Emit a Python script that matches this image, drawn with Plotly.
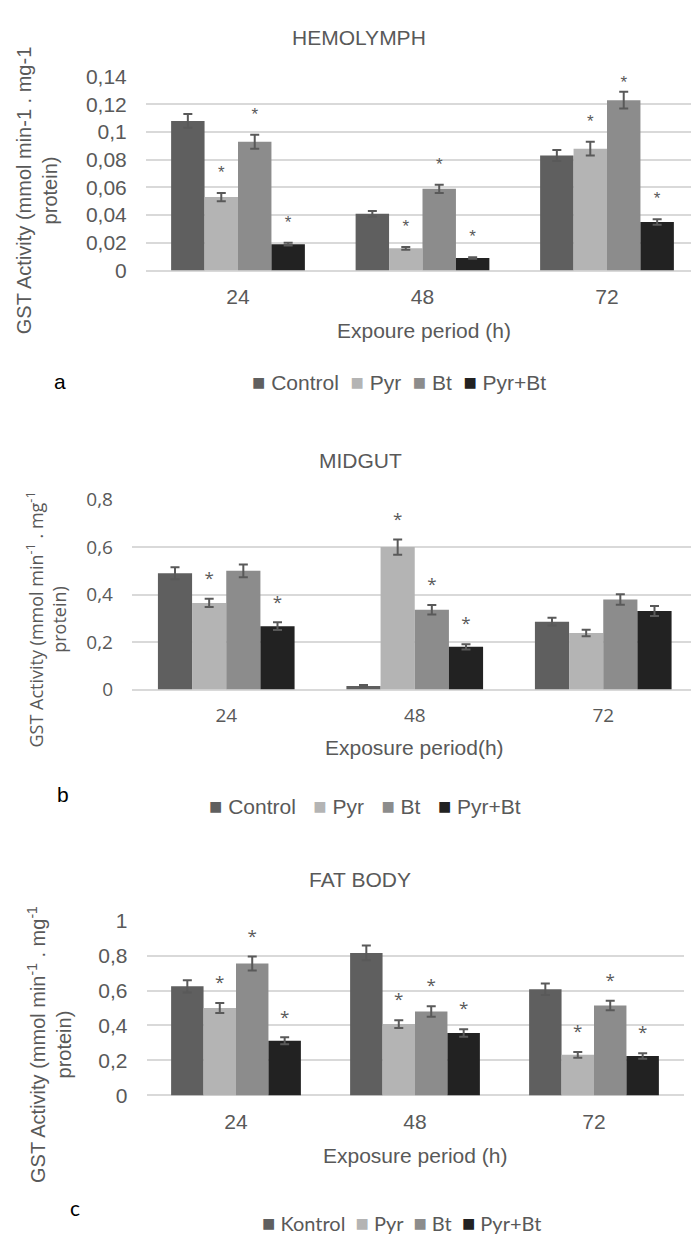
import plotly.graph_objects as go

W, H = 691, 1243

# ---------------- data ----------------
periods = ["24", "48", "72"]
series_ab = ["Control", "Pyr", "Bt", "Pyr+Bt"]
series_c = ["Kontrol", "Pyr", "Bt", "Pyr+Bt"]
colors = ["#5f5f5f", "#b4b4b4", "#8c8c8c", "#222222"]

# HEMOLYMPH
hemo_control = [0.108, 0.041, 0.083]
hemo_pyr = [0.053, 0.016, 0.088]
hemo_bt = [0.093, 0.059, 0.123]
hemo_pyrbt = [0.019, 0.009, 0.035]
hemo_control_err = [0.005, 0.002, 0.004]
hemo_pyr_err = [0.003, 0.001, 0.005]
hemo_bt_err = [0.005, 0.003, 0.006]
hemo_pyrbt_err = [0.001, 0.0006, 0.002]
hemo_sig = [[0, 0, 0], [1, 1, 1], [1, 1, 1], [1, 1, 1]]
hemo_tickvals = [0, 0.02, 0.04, 0.06, 0.08, 0.10, 0.12, 0.14]
hemo_ticktext = ["0", "0,02", "0,04", "0,06", "0,08", "0,1", "0,12", "0,14"]

# MIDGUT
mid_control = [0.490, 0.015, 0.286]
mid_pyr = [0.365, 0.600, 0.238]
mid_bt = [0.500, 0.336, 0.379]
mid_pyrbt = [0.267, 0.180, 0.331]
mid_control_err = [0.025, 0.004, 0.016]
mid_pyr_err = [0.017, 0.032, 0.014]
mid_bt_err = [0.027, 0.020, 0.022]
mid_pyrbt_err = [0.016, 0.011, 0.021]
mid_sig = [[0, 0, 0], [1, 1, 0], [0, 1, 0], [1, 1, 0]]
mid_tickvals = [0, 0.2, 0.4, 0.6, 0.8]
mid_ticktext = ["0", "0,2", "0,4", "0,6", "0,8"]

# FAT BODY
fat_control = [0.624, 0.815, 0.607]
fat_pyr = [0.500, 0.408, 0.232]
fat_bt = [0.755, 0.480, 0.514]
fat_pyrbt = [0.312, 0.357, 0.225]
fat_control_err = [0.035, 0.042, 0.033]
fat_pyr_err = [0.028, 0.022, 0.016]
fat_bt_err = [0.040, 0.030, 0.027]
fat_pyrbt_err = [0.020, 0.022, 0.016]
fat_sig = [[0, 0, 0], [1, 1, 1], [1, 1, 1], [1, 1, 1]]
fat_tickvals = [0, 0.2, 0.4, 0.6, 0.8, 1.0]
fat_ticktext = ["0", "0,2", "0,4", "0,6", "0,8", "1"]

# ---------------- styling / layout helpers ----------------
ARIAL = "Liberation Sans, Arial, sans-serif"
OPEN = "Open Sans, sans-serif"
LATO = "Lato, sans-serif"
GRAY = "#595959"
GRID = "#d9d9d9"
BARGAP = 0.275


def px_x(x):
    return x / W


def px_y(y):
    return 1 - y / H


panels = [
    dict(
        vals=[hemo_control, hemo_pyr, hemo_bt, hemo_pyrbt],
        errs=[hemo_control_err, hemo_pyr_err, hemo_bt_err, hemo_pyrbt_err],
        sig=hemo_sig, tickvals=hemo_tickvals, ticktext=hemo_ticktext,
        x0=145.75, band=184.5, xend=691, ytop=65, ybot=263,
        tickfont=ARIAL, tickfs=21, starfont=ARIAL,
    ),
    dict(
        vals=[mid_control, mid_pyr, mid_bt, mid_pyrbt],
        errs=[mid_control_err, mid_pyr_err, mid_bt_err, mid_pyrbt_err],
        sig=mid_sig, tickvals=mid_tickvals, ticktext=mid_ticktext,
        x0=132, band=188.5, xend=691, ytop=497, ybot=691,
        tickfont=OPEN, tickfs=19, starfont=OPEN,
    ),
    dict(
        vals=[fat_control, fat_pyr, fat_bt, fat_pyrbt],
        errs=[fat_control_err, fat_pyr_err, fat_bt_err, fat_pyrbt_err],
        sig=fat_sig, tickvals=fat_tickvals, ticktext=fat_ticktext,
        x0=146.5, band=179, xend=683.5, ytop=927, ybot=1105.5,
        tickfont=ARIAL, tickfs=21, starfont=OPEN,
    ),
]

fig = go.Figure()
layout_axes = {}
xpos = list(range(len(periods)))
group_w = 1 - BARGAP
bar_w = group_w / 4

for k, p in enumerate(panels, start=1):
    xa = "x" if k == 1 else f"x{k}"
    ya = "y" if k == 1 else f"y{k}"
    ymax = p["tickvals"][-1]
    plot_h = p["ybot"] - p["ytop"]
    per_px = ymax / plot_h
    for i in range(4):
        fig.add_trace(go.Bar(
            x=xpos, y=p["vals"][i], xaxis=xa, yaxis=ya,
            marker=dict(color=colors[i], line=dict(width=0)),
            error_y=dict(type="data", array=p["errs"][i], color=GRAY,
                         thickness=2, width=4.5),
            offsetgroup=str(i), showlegend=False,
        ))
    # significance asterisks above error bars
    for i in range(4):
        sx, sy = [], []
        off = -group_w / 2 + bar_w * (i + 0.5)
        for j in range(3):
            if p["sig"][i][j]:
                top = p["vals"][i][j] + p["errs"][i][j] + 19.5 * per_px
                top = min(top, ymax - 7 * per_px)
                sx.append(xpos[j] + off)
                sy.append(top)
        if sx:
            fig.add_trace(go.Scatter(
                x=sx, y=sy, mode="text", text=["*"] * len(sx),
                textposition="middle center",
                textfont=dict(family=p["starfont"], size=17, color=GRAY),
                xaxis=xa, yaxis=ya, showlegend=False, cliponaxis=False,
                hoverinfo="skip",
            ))
    xkey = "xaxis" if k == 1 else f"xaxis{k}"
    ykey = "yaxis" if k == 1 else f"yaxis{k}"
    xrange_end = -0.5 + (p["xend"] - p["x0"]) / p["band"]
    layout_axes[xkey] = dict(
        domain=[px_x(p["x0"]), px_x(p["xend"])], anchor=ya,
        range=[-0.5, xrange_end], tickvals=xpos, ticktext=periods,
        showgrid=False, zeroline=False, showline=False, ticks="",
        ticklabelstandoff=12,
        tickfont=dict(family=p["tickfont"], size=p["tickfs"], color=GRAY),
        fixedrange=True,
    )
    layout_axes[ykey] = dict(
        domain=[px_y(p["ybot"]), px_y(p["ytop"])], anchor=xa,
        range=[0, ymax], tickvals=p["tickvals"], ticktext=p["ticktext"],
        showgrid=True, gridcolor=GRID, gridwidth=1.5,
        zeroline=True, zerolinecolor=GRID, zerolinewidth=1.5,
        showline=False, ticks="", ticklabelstandoff=18,
        tickfont=dict(family=p["tickfont"], size=p["tickfs"], color=GRAY),
        fixedrange=True,
    )


def legend_text(names, sq_size, gap):
    parts = []
    for n, c in zip(names, colors):
        parts.append(f'<span style="color:{c};font-size:{sq_size}px">\u25a0</span>\u00a0{n}')
    return gap.join(parts)


annotations = []


def ann(text, x, y, family, size, color=GRAY, angle=0):
    annotations.append(dict(
        text=text, x=px_x(x), y=px_y(y), xref="paper", yref="paper",
        xanchor="center", yanchor="middle", showarrow=False, textangle=angle,
        font=dict(family=family, size=size, color=color), align="center",
    ))


# panel titles
ann("HEMOLYMPH", 359, 25, ARIAL, 21)
ann("MIDGUT", 360, 457, ARIAL, 21)
ann("FAT BODY", 360, 885, ARIAL, 21)

# axis titles
ann("Expoure period (h)", 424, 324, ARIAL, 21)
ann("Exposure period(h)", 414, 750, ARIAL, 21)
ann("Exposure period (h)", 415, 1167, ARIAL, 21)

ann("GST Activity (mmol min-1 . mg-1<br>protein)", 37, 182, ARIAL, 20, angle=-90)
ann("GST Activity (mmol min<sup>-1</sup> . mg<sup>-1</sup><br>protein)", 46.5, 620, OPEN, 18, angle=-90)
ann("GST Activity (mmol min<sup>-1</sup> . mg<sup>-1</sup><br>protein)", 50, 1054, ARIAL, 20, angle=-90)

# legends
ann(legend_text(series_ab, 22, "\u00a0\u00a0"), 399, 377, ARIAL, 21)
ann(legend_text(series_ab, 22, "\u00a0\u00a0\u00a0"), 365, 810, ARIAL, 21)
ann(legend_text(series_c, 22, "\u00a0\u00a0"), 401, 1235, LATO, 20)

# panel letters
ann("a", 59.5, 376, ARIAL, 21, color="#000000")
ann("b", 63, 798, ARIAL, 21, color="#000000")
ann("c", 75, 1220, LATO, 21, color="#000000")

fig.update_layout(
    width=W, height=H, margin=dict(l=0, r=0, t=0, b=0),
    paper_bgcolor="white", plot_bgcolor="white",
    barmode="group", bargap=BARGAP, bargroupgap=0,
    showlegend=False, annotations=annotations,
    **layout_axes,
)

fig.write_html("out.html", config={"displayModeBar": False})
